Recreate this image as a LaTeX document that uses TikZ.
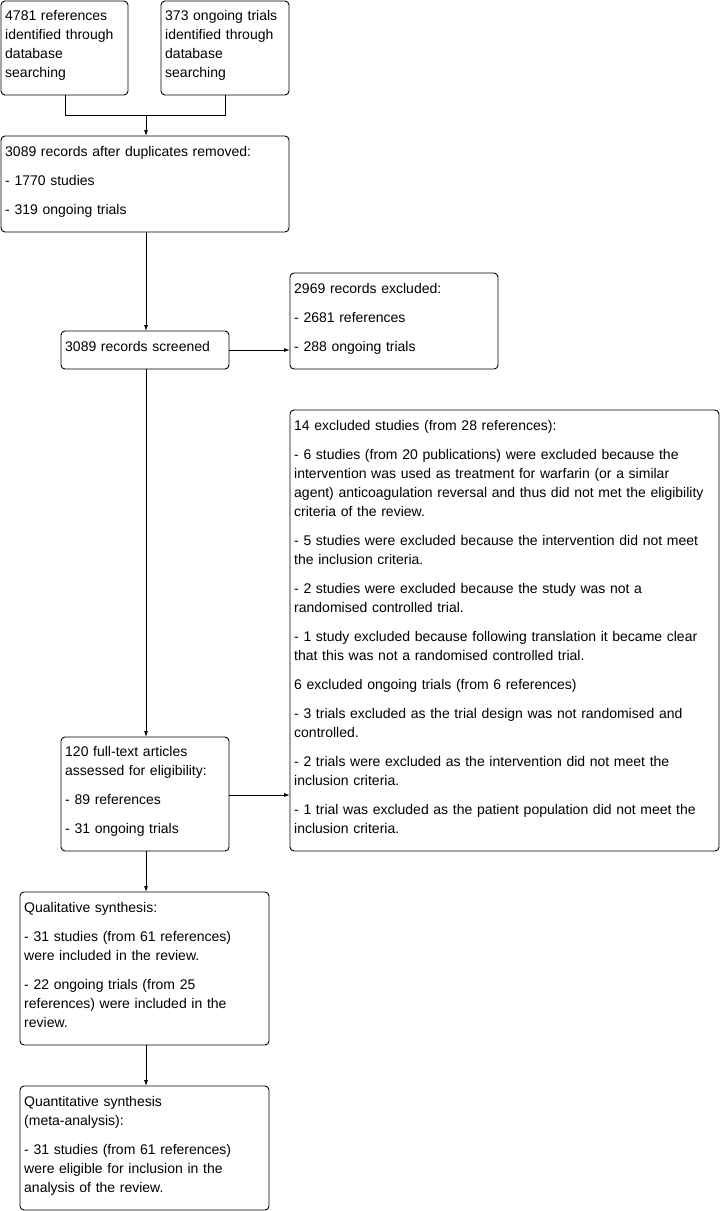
\documentclass[tikz,border=0pt]{standalone}
\usepackage{fontspec}
\setmainfont{Liberation Sans}
\usetikzlibrary{arrows.meta}
\begin{document}
\begin{tikzpicture}[x=1pt,y=-1pt,
  box/.style={draw=black, line width=0.9pt, rounded corners=4pt, inner sep=0pt},
  txt/.style={anchor=base west, inner sep=0pt, text width=460pt, align=left,
    font=\fontsize{14}{19}\selectfont},
  conn/.style={draw=black, line width=0.9pt},
  arr/.style={conn, -{Latex[length=6pt,width=4pt]}}]
\useasboundingbox (0,0) rectangle (721,1211);
\fill[white] (0,0) rectangle (721,1211);
% boxes
\draw[box] (1,1) rectangle (128,95);
\draw[box] (161,1) rectangle (289,95);
\draw[box] (1,136) rectangle (289,232);
\draw[box] (61,331) rectangle (229,369);
\draw[box] (290,273) rectangle (498,369);
\draw[box] (290,410) rectangle (719,851);
\draw[box] (61,737) rectangle (229,851);
\draw[box] (20,892) rectangle (269,1045);
\draw[box] (20,1086) rectangle (269,1210);
% named anchors
\coordinate (aB) at (65,95);
\coordinate (bB) at (225,95);
\coordinate (aJ) at (65,115);
\coordinate (bJ) at (225,115);
\coordinate (mJ) at (146,115);
\coordinate (cT) at (146,136);
\coordinate (cB) at (146,232);
\coordinate (dT) at (146,331);
\coordinate (dB) at (146,369);
\coordinate (dR) at (229,350);
\coordinate (eL) at (290,350);
\coordinate (gT) at (146,737);
\coordinate (gR) at (229,795);
\coordinate (fL) at (290,795);
\coordinate (gB) at (146,851);
\coordinate (hT) at (146,892);
\coordinate (hB) at (146,1045);
\coordinate (iT) at (146,1086);
% connectors
\draw[conn] (aB) -- (aJ) -- (bJ) -- (bB);
\draw[arr] (mJ) -- (cT);
\draw[arr] (cB) -- (dT);
\draw[arr] (dR) -- (eL);
\draw[arr] (dB) -- (gT);
\draw[arr] (gR) -- (fL);
\draw[arr] (gB) -- (hT);
\draw[arr] (hB) -- (iT);
% texts
\node[txt] (ta) at (5,20) {4781 references\\identified through\\database\\searching};
\node[txt] (tb) at (165,20) {373 ongoing trials\\identified through\\database\\searching};
\node[txt] (tc) at (5,156) {3089 records after duplicates removed:\\[10pt]- 1770 studies\\[10pt]- 319 ongoing trials};
\node[txt] (td) at (65,351) {3089 records screened};
\node[txt] (te) at (294,293) {2969 records excluded:\\[10pt]- 2681 references\\[10pt]- 288 ongoing trials};
\node[txt] (tf) at (294,430) {14 excluded studies (from 28 references):\\[10pt]
- 6 studies (from 20 publications) were excluded because the\\
intervention was used as treatment for warfarin (or a similar\\
agent) anticoagulation reversal and thus did not met the eligibility\\
criteria of the review.\\[10pt]
- 5 studies were excluded because the intervention did not meet\\
the inclusion criteria.\\[10pt]
- 2 studies were excluded because the study was not a\\
randomised controlled trial.\\[10pt]
- 1 study excluded because following translation it became clear\\
that this was not a randomised controlled trial.\\[10pt]
6 excluded ongoing trials (from 6 references)\\[10pt]
- 3 trials excluded as the trial design was not randomised and\\
controlled.\\[10pt]
- 2 trials were excluded as the intervention did not meet the\\
inclusion criteria.\\[10pt]
- 1 trial was excluded as the patient population did not meet the\\
inclusion criteria.};
\node[txt] (tg) at (65,756) {120 full-text articles\\assessed for eligibility:\\[10pt]- 89 references\\[10pt]- 31 ongoing trials};
\node[txt] (th) at (24,912) {Qualitative synthesis:\\[10pt]- 31 studies (from 61 references)\\were included in the review.\\[10pt]- 22 ongoing trials (from 25\\references) were included in the\\review.};
\node[txt] (ti) at (24,1106) {Quantitative synthesis\\(meta-analysis):\\[10pt]- 31 studies (from 61 references)\\were eligible for inclusion in the\\analysis of the review.};
\end{tikzpicture}
\end{document}
